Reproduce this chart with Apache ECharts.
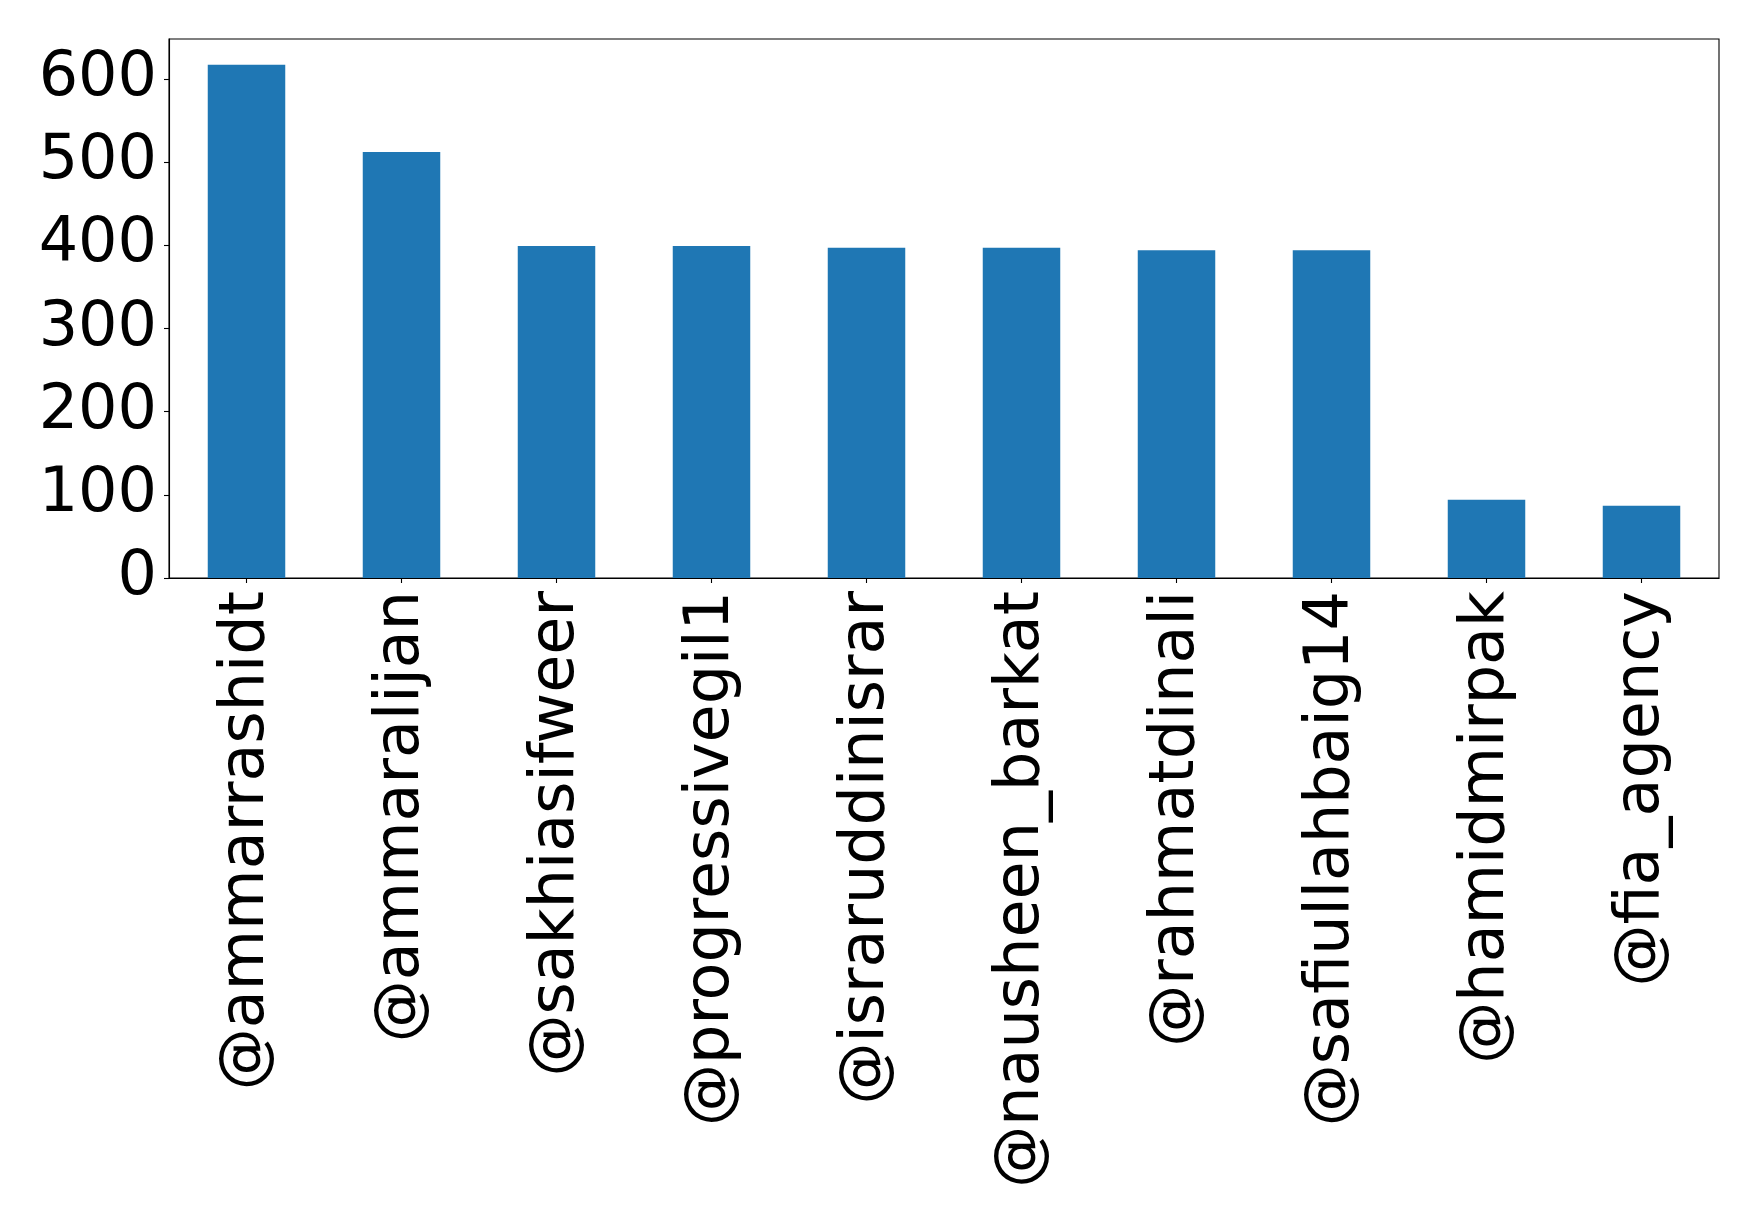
<!DOCTYPE html>
<html>
<head>
<meta charset="utf-8">
<script src="https://cdn.jsdelivr.net/npm/echarts@6/dist/echarts.min.js"></script>
<style>
html,body{margin:0;padding:0;background:#fff;}
#chart{width:1759px;height:1229px;}
</style>
</head>
<body>
<div id="chart"></div>
<script>
const categories = ['@ammarrashidt','@ammaralijan','@sakhiasifweer','@progressivegil1','@israruddinisrar','@nausheen_barkat','@rahmatdinali','@safiullahbaig14','@hamidmirpak','@fia_agency'];
const counts = [617, 512, 399, 399, 397, 397, 394, 394, 94, 87];
const yTicks = [0, 100, 200, 300, 400, 500, 600];

const chart = echarts.init(document.getElementById('chart'), null, {renderer: 'canvas'});
const font = 'DejaVu Sans';
chart.setOption({
  animation: false,
  backgroundColor: '#ffffff',
  grid: {left: 169, right: 40, top: 39, height: 539, show: true, borderColor: '#000', borderWidth: 1.1, containLabel: false},
  xAxis: {
    type: 'category',
    data: categories,
    boundaryGap: true,
    axisLine: {show: true, lineStyle: {color: '#000', width: 1.1}},
    axisTick: {show: true, alignWithLabel: true, length: 5, lineStyle: {color: '#000', width: 1.1}},
    axisLabel: {rotate: 90, margin: 13, color: '#000', fontFamily: font, fontSize: 62, interval: 0}
  },
  yAxis: {
    type: 'value',
    min: 0,
    max: 648,
    interval: 100,
    splitLine: {show: false},
    axisLine: {show: true, lineStyle: {color: '#000', width: 1.1}},
    axisTick: {show: true, length: 5, lineStyle: {color: '#000', width: 1.1}},
    axisLabel: {
      color: '#000', fontFamily: font, fontSize: 62, margin: 12, showMaxLabel: false,
      formatter: v => yTicks.includes(v) ? String(v) : ''
    }
  },
  series: [{
    type: 'bar',
    data: counts,
    barWidth: '50%',
    itemStyle: {color: '#1f77b4'}
  }]
});
</script>
</body>
</html>
